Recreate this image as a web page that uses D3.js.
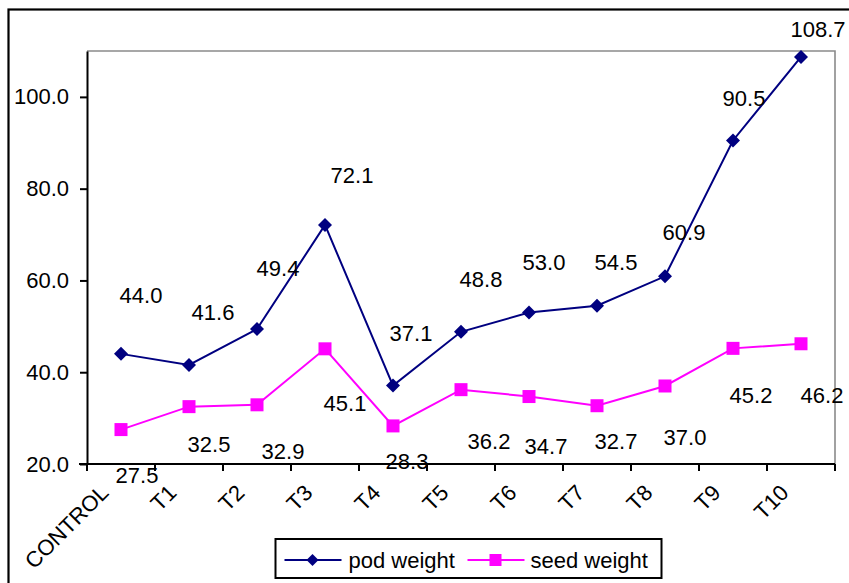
<!DOCTYPE html>
<html>
<head>
<meta charset="utf-8">
<script src="https://cdn.jsdelivr.net/npm/d3@7"></script>
<style>
  html, body { margin: 0; padding: 0; background: #fff; }
  svg { display: block; font-family: "Liberation Sans", Arial, sans-serif; }
</style>
</head>
<body>
<svg id="chart" width="849" height="583"></svg>
<script>
// ---- data ----
const categories = ["CONTROL", "T1", "T2", "T3", "T4", "T5", "T6", "T7", "T8", "T9", "T10"];
const podWeight  = [44.0, 41.6, 49.4, 72.1, 37.1, 48.8, 53.0, 54.5, 60.9, 90.5, 108.7];
const seedWeight = [27.5, 32.5, 32.9, 45.1, 28.3, 36.2, 34.7, 32.7, 37.0, 45.2, 46.2];
const yTicks = [20, 40, 60, 80, 100];
const seriesNames = ["pod weight", "seed weight"];

// data-label offsets (pixels, from the point) as placed in the original chart
const podLabelOffset  = [[20,-59],[24,-53],[21,-61],[27,-50],[18,-52],[20,-53],[15,-50],[19,-44],[19,-44],[11,-42],[17,-28]];
const seedLabelOffset = [[16,45],[20,37],[26,46],[20,54],[14,35],[28,51],[17,50],[19,35],[20,51],[18,47],[21,51]];

// ---- layout ----
const W = 849, H = 583;
const plot = { left: 87, right: 835, top: 51, bottom: 464 };
const FONT = 22;
const podColor = "#000080", seedColor = "#FF00FF";

const svg = d3.select("#chart");

// outer frame
svg.append("rect")
  .attr("x", 8.5).attr("y", 9.5)
  .attr("width", W + 20).attr("height", H + 20)
  .attr("fill", "none").attr("stroke", "#000").attr("stroke-width", 2.2);

const x = d3.scaleBand().domain(categories).range([plot.left, plot.right]).padding(0);
const y = d3.scaleLinear().domain([20, 110]).range([plot.bottom, plot.top]);
const cx = c => x(c) + x.bandwidth() / 2;

// plot area border (top & right grey)
svg.append("path")
  .attr("d", `M${plot.left},${plot.top}H${plot.right}V${plot.bottom}`)
  .attr("fill", "none").attr("stroke", "#8a8a8a").attr("stroke-width", 1.6);

// series
const series = [
  { name: seriesNames[0], values: podWeight, color: podColor, shape: "diamond", offs: podLabelOffset },
  { name: seriesNames[1], values: seedWeight, color: seedColor, shape: "square", offs: seedLabelOffset }
];

const line = d3.line().x((d, i) => cx(categories[i])).y(d => y(d));

function marker(g, shape, color) {
  if (shape === "diamond") {
    g.append("path").attr("d", "M0,-7L7,0L0,7L-7,0Z").attr("fill", color);
  } else {
    g.append("rect").attr("x", -6.5).attr("y", -6.5).attr("width", 13).attr("height", 13).attr("fill", color);
  }
}

// draw seed first then pod (pod on top)
series.slice().reverse().forEach(s => {
  svg.append("path").datum(s.values)
    .attr("d", line)
    .attr("fill", "none").attr("stroke", s.color).attr("stroke-width", 2);
  s.values.forEach((v, i) => {
    const g = svg.append("g").attr("transform", `translate(${cx(categories[i])},${y(v)})`);
    marker(g, s.shape, s.color);
  });
});

// data labels
series.forEach(s => {
  svg.append("g").selectAll("text").data(s.values).join("text")
    .attr("x", (d, i) => cx(categories[i]) + s.offs[i][0])
    .attr("y", (d, i) => y(d) + s.offs[i][1])
    .attr("dy", "0.36em")
    .attr("text-anchor", "middle")
    .attr("font-size", FONT)
    .attr("fill", "#000")
    .text(d => d3.format(".1f")(d));
});

// y axis
const yAxis = d3.axisLeft(y).tickValues(yTicks).tickFormat(d3.format(".1f"))
  .tickSize(7).tickSizeOuter(0).tickPadding(11);
const gy = svg.append("g").attr("transform", `translate(${plot.left},0)`).call(yAxis);
gy.select(".domain").attr("stroke", "#000").attr("stroke-width", 2);
gy.selectAll(".tick line").attr("stroke", "#000").attr("stroke-width", 2);
gy.selectAll(".tick text").attr("font-size", FONT).attr("fill", "#000")
  .attr("font-family", "Liberation Sans, Arial, sans-serif");

// x axis (line + boundary ticks)
const gx = svg.append("g").attr("transform", `translate(0,${plot.bottom})`);
gx.append("line").attr("x1", plot.left - 8).attr("x2", plot.right)
  .attr("stroke", "#000").attr("stroke-width", 2);
const bounds = categories.map(c => x(c)).concat([plot.right]);
gx.selectAll("line.tk").data(bounds).join("line").attr("class", "tk")
  .attr("x1", d => d).attr("x2", d => d).attr("y1", 0).attr("y2", 7)
  .attr("stroke", "#000").attr("stroke-width", 2);
gx.selectAll("text").data(categories).join("text")
  .attr("transform", c => `translate(${cx(c) - 11},${30}) rotate(-45)`)
  .attr("text-anchor", "end")
  .attr("font-size", FONT).attr("fill", "#000")
  .text(c => c);

// legend
const lg = svg.append("g").attr("transform", "translate(275.5,539)");
lg.append("rect").attr("width", 386).attr("height", 39)
  .attr("fill", "#fff").attr("stroke", "#000").attr("stroke-width", 2);
const legendItems = [
  { name: seriesNames[0], color: podColor, shape: "diamond", x0: 9, text: 73 },
  { name: seriesNames[1], color: seedColor, shape: "square", x0: 192, text: 255 }
];
legendItems.forEach(it => {
  lg.append("line").attr("x1", it.x0).attr("x2", it.x0 + 57).attr("y1", 21).attr("y2", 21)
    .attr("stroke", it.color).attr("stroke-width", 2);
  const m = lg.append("g").attr("transform", `translate(${it.x0 + 28},21)`);
  if (it.shape === "diamond") m.append("path").attr("d", "M0,-6L6,0L0,6L-6,0Z").attr("fill", it.color);
  else m.append("rect").attr("x", -6).attr("y", -6).attr("width", 12).attr("height", 12).attr("fill", it.color);
  lg.append("text").attr("x", it.text).attr("y", 21).attr("dy", "0.36em")
    .attr("font-size", FONT).attr("fill", "#000").text(it.name);
});
</script>
</body>
</html>
